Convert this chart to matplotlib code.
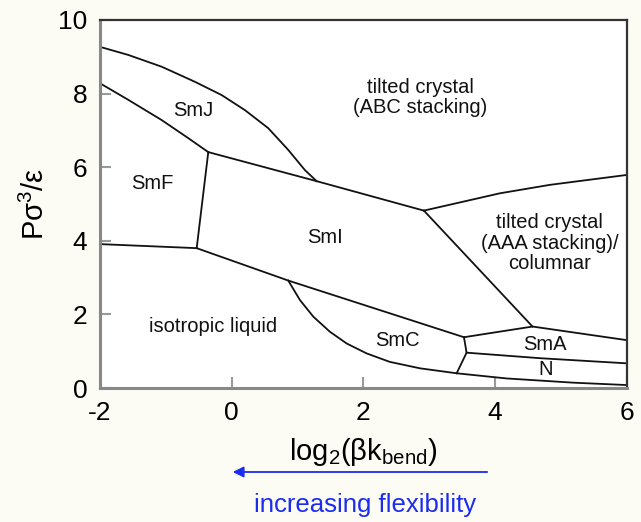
import matplotlib
matplotlib.use("Agg")
import matplotlib.pyplot as plt
from matplotlib.patches import FancyArrowPatch

plt.rcParams["font.family"] = ["Liberation Sans", "DejaVu Sans"]
plt.rcParams["mathtext.fontset"] = "custom"
plt.rcParams["mathtext.rm"] = "Liberation Sans"
plt.rcParams["mathtext.it"] = "Liberation Sans"
plt.rcParams["axes.unicode_minus"] = False

# phase boundaries: (log2(beta k_bend), P sigma^3/eps)
smj_top_x = [-2.0, -1.57, -1.063, -0.558, -0.153, 0.201, 0.555, 0.858, 1.112, 1.29]
smj_top_y = [9.27, 9.05, 8.73, 8.32, 7.96, 7.55, 7.06, 6.47, 5.92, 5.62]

smj_low_x = [-2.0, -1.57, -1.063, -0.66, -0.356]
smj_low_y = [8.28, 7.83, 7.28, 6.79, 6.41]

smi_top_x = [-0.356, 1.29, 2.918]
smi_top_y = [6.41, 5.62, 4.82]

aaa_top_x = [2.918, 4.07, 4.83, 6.0]
aaa_top_y = [4.82, 5.29, 5.52, 5.79]

aaa_low_x = [2.918, 4.567]
aaa_low_y = [4.82, 1.67]

sma_top_x = [3.526, 4.567, 6.0]
sma_top_y = [1.38, 1.67, 1.30]

smf_right_x = [-0.356, -0.532]
smf_right_y = [6.41, 3.80]

smf_low_x = [-2.0, -0.532]
smf_low_y = [3.91, 3.80]

smc_top_x = [-0.532, 0.858, 3.526]
smc_top_y = [3.80, 2.92, 1.38]

smc_low_x = [0.858, 1.036, 1.238, 1.49, 1.745, 2.048, 2.40, 2.858, 3.415,
             4.172, 5.185, 6.0]
smc_low_y = [2.92, 2.39, 1.94, 1.53, 1.21, 0.94, 0.71, 0.535, 0.40,
             0.26, 0.145, 0.08]

smc_right_x = [3.526, 3.566, 3.415]
smc_right_y = [1.38, 0.96, 0.40]

n_top_x = [3.566, 4.68, 6.0]
n_top_y = [0.96, 0.81, 0.67]

boundaries = [
    (smj_top_x, smj_top_y), (smj_low_x, smj_low_y), (smi_top_x, smi_top_y),
    (aaa_top_x, aaa_top_y), (aaa_low_x, aaa_low_y), (sma_top_x, sma_top_y),
    (smf_right_x, smf_right_y), (smf_low_x, smf_low_y), (smc_top_x, smc_top_y),
    (smc_low_x, smc_low_y), (smc_right_x, smc_right_y), (n_top_x, n_top_y),
]

phase_labels = [
    ("tilted crystal\n(ABC stacking)", 2.86, 7.9),
    ("SmJ", -0.59, 7.55),
    ("SmF", -1.2, 5.57),
    ("SmI", 1.42, 4.08),
    ("tilted crystal\n(AAA stacking)/\ncolumnar", 4.83, 3.94),
    ("isotropic liquid", -0.28, 1.66),
    ("SmC", 2.52, 1.30),
    ("SmA", 4.76, 1.17),
    ("N", 4.77, 0.49),
]

xticks = [-2, 0, 2, 4, 6]
yticks = [0, 2, 4, 6, 8, 10]

fig = plt.figure(figsize=(6.41, 5.22), dpi=100, facecolor="#fcfbf4")
ax = fig.add_axes([0.156, 0.2567, 0.822, 0.705])
ax.set_facecolor("white")

for bx, by in boundaries:
    ax.plot(bx, by, color="#111111", lw=1.3, solid_joinstyle="round")

for txt, tx, ty in phase_labels:
    ax.text(tx, ty, txt, ha="center", va="center", fontsize=14.5,
            color="#111111", linespacing=1.1)

ax.set_xlim(-2, 6)
ax.set_ylim(0, 10)
ax.set_xticks(xticks)
ax.set_yticks(yticks)
ax.tick_params(direction="in", length=8, width=1.5, color="#999999",
               labelsize=19)
ax.tick_params(axis="x", pad=9)
ax.tick_params(axis="y", pad=9)

for side in ["left", "bottom"]:
    ax.spines[side].set_color("#888888")
    ax.spines[side].set_linewidth(2.2)
for side in ["top", "right"]:
    ax.spines[side].set_color("#333333")
    ax.spines[side].set_linewidth(1.6)

ax.set_xlabel(r"log$_2$(βk$_{\rm bend}$)", fontsize=21, labelpad=8)
ax.set_ylabel(r"Pσ$^3$/ε", fontsize=21, labelpad=6)

# arrow + note under the x axis
fig.patches.append(FancyArrowPatch(
    (490 / 641, 1 - 472 / 522), (230 / 641, 1 - 472 / 522),
    transform=fig.transFigure, arrowstyle="-|>", mutation_scale=16,
    color="#1a2cf0", lw=1.3))
fig.text(365 / 641, 1 - 505 / 522, "increasing flexibility", ha="center",
         va="center", fontsize=18.5, color="#1a2cf0")

fig.savefig("out.png", dpi=100, facecolor=fig.get_facecolor())
